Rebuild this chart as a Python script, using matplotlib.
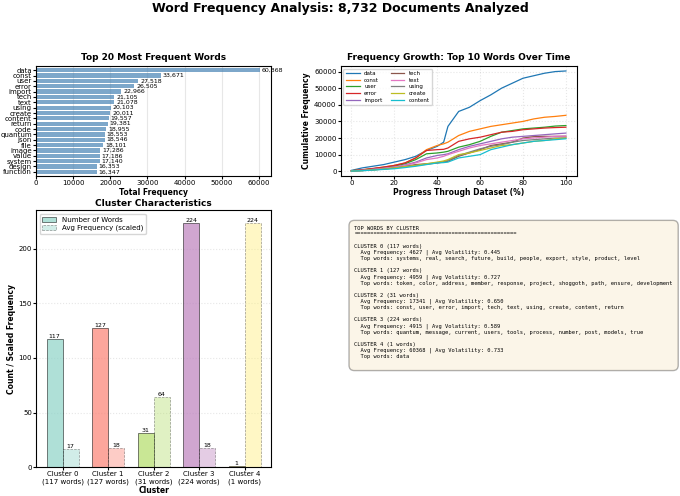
import matplotlib
matplotlib.use("Agg")
import matplotlib.pyplot as plt
import numpy as np

# ---- data ----
top_words = ["data", "const", "user", "error", "import", "tech", "text", "using",
             "create", "content", "return", "code", "quantum", "json", "file",
             "image", "value", "system", "design", "function"]
top_counts = [60368, 33671, 27518, 26505, 22966, 21105, 21078, 20103, 20011, 19557,
              19381, 18955, 18553, 18546, 18101, 17286, 17186, 17140, 16353, 16347]

progress = [0, 5, 10, 15, 20, 25, 30, 35, 40, 43, 45, 50, 55, 60, 65, 70, 75, 80, 85, 90, 95, 100]
growth_words = ["data", "const", "user", "error", "import", "tech", "text", "using", "create", "content"]
growth_data = [500, 2000, 3000, 4000, 5500, 7000, 9000, 12500, 15000, 17500, 27000, 36000, 38500, 42500, 46000, 50000, 53000, 56000, 57500, 59000, 60000, 60368]
growth_const = [300, 800, 1500, 2500, 3500, 5000, 8000, 13000, 15500, 16500, 17500, 21500, 24000, 25500, 27000, 28000, 29000, 30000, 31500, 32500, 33000, 33671]
growth_user = [300, 800, 1500, 2200, 3000, 4500, 7000, 10500, 11000, 11500, 12000, 14500, 16000, 18000, 21000, 23500, 24500, 25500, 26000, 26500, 27200, 27518]
growth_error = [300, 900, 1700, 2500, 3500, 5000, 8000, 12500, 13000, 13200, 14000, 18000, 19500, 20500, 22000, 23500, 24000, 25000, 25500, 26000, 26300, 26505]
growth_import = [200, 600, 1200, 1800, 2500, 3800, 5500, 8000, 9500, 10000, 10500, 13000, 15000, 16500, 18000, 19500, 20500, 21000, 21500, 22000, 22500, 22966]
growth_tech = [100, 400, 900, 1400, 2000, 3000, 4000, 4500, 5000, 5500, 6000, 9000, 11000, 13000, 15500, 16500, 17500, 20000, 20800, 21000, 21000, 21105]
growth_text = [200, 500, 1000, 1700, 2500, 3500, 5000, 7000, 8000, 9000, 10000, 12000, 14000, 15500, 16500, 17500, 18500, 19500, 20000, 20500, 21000, 21078]
growth_using = [100, 400, 800, 1300, 2000, 2800, 3500, 4200, 5000, 5800, 6500, 9500, 11500, 13500, 15000, 16000, 17500, 18500, 19000, 19500, 20000, 20103]
growth_create = [100, 400, 800, 1300, 2000, 2800, 3500, 4500, 5500, 6200, 7000, 10000, 11000, 12500, 14000, 15500, 16000, 17000, 18000, 18500, 19500, 20011]
growth_content = [100, 300, 700, 1100, 1500, 2200, 3000, 4000, 5000, 5200, 5500, 8000, 9000, 10000, 13000, 14500, 16000, 17000, 18000, 18500, 19000, 19557]
growth_series = [growth_data, growth_const, growth_user, growth_error, growth_import,
                 growth_tech, growth_text, growth_using, growth_create, growth_content]

cluster_ids = [0, 1, 2, 3, 4]
cluster_sizes = [117, 127, 31, 224, 1]
cluster_freq_scaled = [17, 18, 64, 18, 224]
cluster_avg_freq = [4627, 4959, 17341, 4915, 60368]
cluster_volatility = [0.445, 0.727, 0.650, 0.589, 0.733]
cluster_top_words = [
    ["systems", "real", "search", "future", "build", "people", "export", "style", "product", "level"],
    ["token", "color", "address", "member", "response", "project", "shoggoth", "path", "ensure", "development"],
    ["const", "user", "error", "import", "tech", "text", "using", "create", "content", "return"],
    ["quantum", "message", "current", "users", "tools", "process", "number", "post", "models", "true"],
    ["data"],
]

fig = plt.figure(figsize=(6.8, 4.96), dpi=100)
fig.suptitle("Word Frequency Analysis: 8,732 Documents Analyzed",
             fontsize=9, fontweight="bold", y=0.995)

# ---------- Top 20 words ----------
ax1 = fig.add_axes([0.053, 0.645, 0.346, 0.222])
y = np.arange(len(top_words))
ax1.barh(y, top_counts, color="steelblue", alpha=0.7)
ax1.set_yticks(y)
ax1.set_yticklabels(top_words, fontsize=5)
ax1.invert_yaxis()
for i, v in enumerate(top_counts):
    ax1.text(v + 500, i, f"{v:,}", va="center", fontsize=4.5)
ax1.set_xlabel("Total Frequency", fontsize=5.5, fontweight="bold", labelpad=1)
ax1.set_title("Top 20 Most Frequent Words", fontsize=6.5, fontweight="bold", pad=4)
ax1.tick_params(axis="x", labelsize=5, pad=1, length=2)
ax1.tick_params(axis="y", pad=1, length=2)
ax1.grid(axis="x", alpha=0.3)
ax1.set_axisbelow(True)
ax1.margins(y=0.02)

# ---------- Growth lines ----------
ax2 = fig.add_axes([0.501, 0.645, 0.347, 0.222])
for name, vals in zip(growth_words, growth_series):
    ax2.plot(progress, vals, label=name, linewidth=0.9)
ax2.set_title("Frequency Growth: Top 10 Words Over Time", fontsize=6.5, fontweight="bold", pad=4)
ax2.set_xlabel("Progress Through Dataset (%)", fontsize=5.5, fontweight="bold", labelpad=1)
ax2.set_ylabel("Cumulative Frequency", fontsize=5.5, fontweight="bold", labelpad=2)
ax2.tick_params(labelsize=5, pad=1, length=2)
ax2.legend(ncol=2, fontsize=4, loc="upper left", handlelength=2.5, columnspacing=1.5,
           labelspacing=0.3, borderpad=0.4)
ax2.grid(alpha=0.3, linestyle=":")

# ---------- Cluster characteristics ----------
ax3 = fig.add_axes([0.053, 0.058, 0.346, 0.518])
colors = plt.cm.Set3(np.linspace(0, 1, len(cluster_ids)))
x = np.arange(len(cluster_ids))
w = 0.35
b1 = ax3.bar(x - w / 2, cluster_sizes, w, color=colors, alpha=0.7,
             edgecolor="black", linewidth=0.5, label="Number of Words")
b2 = ax3.bar(x + w / 2, cluster_freq_scaled, w, color=colors, alpha=0.4,
             edgecolor="black", linewidth=0.5, linestyle="--", label="Avg Frequency (scaled)")
for bars in (b1, b2):
    for bar in bars:
        h = bar.get_height()
        ax3.text(bar.get_x() + bar.get_width() / 2, h, f"{int(h)}",
                 ha="center", va="bottom", fontsize=4.5)
ax3.set_xticks(x)
ax3.set_xticklabels([f"Cluster {c}\n({n} words)" for c, n in zip(cluster_ids, cluster_sizes)],
                    fontsize=4.5)
ax3.set_xlabel("Cluster", fontsize=5.5, fontweight="bold", labelpad=1)
ax3.set_ylabel("Count / Scaled Frequency", fontsize=5.5, fontweight="bold", labelpad=2)
ax3.set_title("Cluster Characteristics", fontsize=6.5, fontweight="bold", pad=3)
ax3.tick_params(labelsize=5, pad=1, length=2)
ax3.legend(fontsize=5, loc="upper left", borderpad=0.4, labelspacing=0.3)
ax3.grid(axis="y", alpha=0.3, linestyle=":")
ax3.set_axisbelow(True)

# ---------- Text summary ----------
ax4 = fig.add_axes([0.501, 0.058, 0.347, 0.518])
ax4.axis("off")
lines = ["TOP WORDS BY CLUSTER", "=" * 50, ""]
for c, n, f, vol, words in zip(cluster_ids, cluster_sizes, cluster_avg_freq,
                                cluster_volatility, cluster_top_words):
    lines.append(f"CLUSTER {c} ({n} words)")
    lines.append(f"  Avg Frequency: {f} | Avg Volatility: {vol:.3f}")
    lines.append(f"  Top words: {', '.join(words)}")
    lines.append("")
ax4.text(0.058, 0.94, "\n".join(lines), transform=ax4.transAxes, fontsize=3.85,
         family="monospace", va="top", ha="left", linespacing=1.25,
         bbox=dict(boxstyle="round", facecolor="wheat", alpha=0.3, pad=1.0))

fig.savefig("out.png", dpi=100)
